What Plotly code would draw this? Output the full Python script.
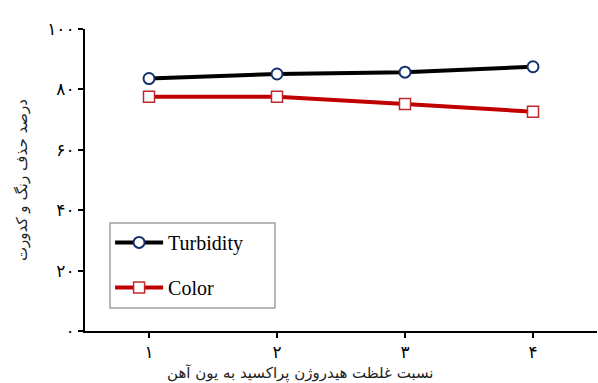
import plotly.graph_objects as go

# H2O2 : Fe ratio (x) and removal percentages
ratios = [1, 2, 3, 4]
ratio_labels = ["۱", "۲", "۳", "۴"]
turbidity = [83.6, 85.1, 85.7, 87.5]
color = [77.6, 77.6, 75.2, 72.6]
y_ticks = [0, 20, 40, 60, 80, 100]
y_tick_labels = ["۰", "۲۰", "۴۰", "۶۰", "۸۰", "۱۰۰"]

x_title = "نسبت غلظت هیدروژن پراکسید به یون آهن"
y_title = "درصد حذف رنگ و کدورت"

fig = go.Figure()
fig.add_trace(go.Scatter(
    x=ratios, y=turbidity, name="Turbidity", mode="lines+markers",
    line=dict(color="black", width=4),
    marker=dict(symbol="circle", size=11, color="white",
                line=dict(color="#14306e", width=2)),
    legendgroup="a",
))
fig.add_trace(go.Scatter(
    x=ratios, y=color, name="Color", mode="lines+markers",
    line=dict(color="#c00000", width=4),
    marker=dict(symbol="square", size=11, color="white",
                line=dict(color="#c0282d", width=1.5)),
    legendgroup="b",
))

fig.update_layout(
    width=598, height=383,
    margin=dict(l=85, r=1, t=29, b=52),
    plot_bgcolor="white", paper_bgcolor="white",
    showlegend=True,
    legend=dict(
        x=0.049, y=0.358, xanchor="left", yanchor="top",
        borderwidth=0, bgcolor="rgba(0,0,0,0)",
        font=dict(family="Liberation Serif", size=20, color="black"),
        tracegroupgap=16, itemwidth=48,
    ),
    # framed box around the legend
    shapes=[dict(type="rect", xref="paper", yref="paper",
                 x0=0.0488, x1=0.371, y0=0.076, y1=0.358,
                 line=dict(color="#a0a0a0", width=1.5),
                 fillcolor="white", layer="above")],
    xaxis=dict(
        range=[0.5, 4.5], tickvals=ratios, ticktext=ratio_labels,
        showline=True, linecolor="black", linewidth=2,
        ticks="outside", ticklen=5, tickwidth=2, tickcolor="black",
        showgrid=False, zeroline=False,
        tickfont=dict(family="DejaVu Sans", size=17, color="black"),
    ),
    yaxis=dict(
        range=[0, 100], tickvals=y_ticks, ticktext=y_tick_labels,
        showline=True, linecolor="black", linewidth=2,
        ticks="outside", ticklen=5, tickwidth=2, tickcolor="black",
        showgrid=False, zeroline=False,
        tickfont=dict(family="DejaVu Sans", size=17, color="black"),
    ),
    annotations=[
        dict(text=y_title, xref="paper", yref="paper", x=-0.123, y=0.5,
             xanchor="center", yanchor="middle",
             textangle=-90, showarrow=False,
             font=dict(family="DejaVu Sans", size=15, color="#222222")),
        dict(text=x_title, xref="paper", yref="paper", x=0.42, y=-0.17,
             xanchor="center", yanchor="bottom", yshift=-3, showarrow=False,
             font=dict(family="DejaVu Sans", size=15, color="#222222")),
    ],
)

fig.write_html("out.html")
